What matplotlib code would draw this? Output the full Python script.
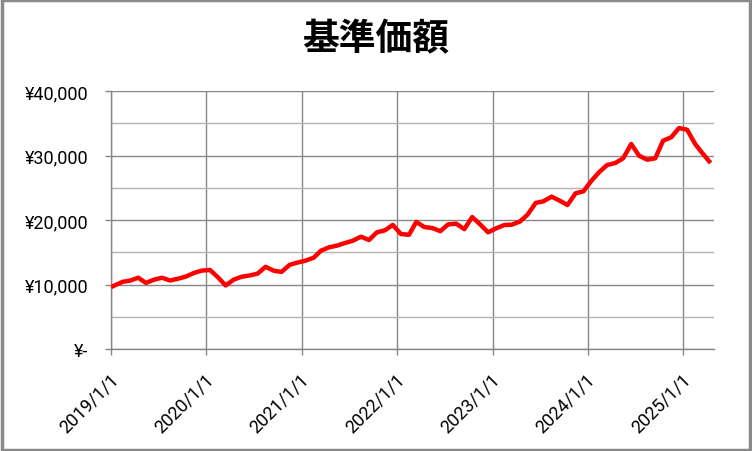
import pandas as pd
import matplotlib.pyplot as plt
import matplotlib.dates as mdates
import matplotlib.transforms as mtransforms
from matplotlib.patches import Rectangle
from matplotlib.ticker import FuncFormatter, MultipleLocator

plt.rcParams['font.family'] = ['Roboto', 'Noto Sans CJK JP', 'DejaVu Sans']

# first point at the start of 2019, then one point per month (15th)
dates = [pd.Timestamp('2019-01-01')] + list(
    pd.date_range('2019-02-01', periods=75, freq='MS') + pd.Timedelta(days=14))

nav = [
    # 2019
    9600, 10420, 10600, 11050, 10250, 10750, 11050, 10620, 10900, 11230, 11800, 12150,
    # 2020
    12250, 11100, 9850, 10760, 11200, 11400, 11680, 12750, 12140, 11950, 13050, 13400,
    # 2021
    13700, 14150, 15240, 15770, 16020, 16430, 16790, 17410, 16900, 18090, 18400, 19240,
    # 2022
    17830, 17700, 19700, 18900, 18760, 18270, 19320, 19430, 18580, 20460, 19300, 18090,
    # 2023
    18710, 19220, 19270, 19740, 20820, 22640, 22900, 23620, 23000, 22330, 24140, 24450,
    # 2024
    26100, 27490, 28530, 28840, 29560, 31780, 29970, 29350, 29560, 32290, 32820, 34260,
    # 2025
    34000, 31780, 30340, 28840,
]

title = "基準価額"
year_ticks = pd.date_range('2019-01-01', '2025-01-01', freq='YS')

grid_major = '#878787'
grid_minor = '#b3b3b3'


def yen(v, pos):
    if v == 0:
        return "¥-"
    return "¥{:,.0f}".format(v)


def draw_plot():
    fig = plt.figure(figsize=(7.52, 4.52), dpi=100)
    ax = fig.add_axes([111 / 752, 1 - 350 / 452, 603 / 752, 258 / 452])

    ax.plot(dates, nav, color='#ff0000', linewidth=3.2, solid_joinstyle='round',
            solid_capstyle='butt', zorder=3)

    ax.set_xlim(pd.Timestamp('2019-01-01'), pd.Timestamp('2025-04-28'))
    ax.set_ylim(0, 40000)

    ax.yaxis.set_major_locator(MultipleLocator(10000))
    ax.yaxis.set_minor_locator(MultipleLocator(5000))
    ax.yaxis.set_major_formatter(FuncFormatter(yen))
    ax.set_xticks(year_ticks)
    ax.xaxis.set_major_formatter(mdates.DateFormatter('%Y/%-m/%-d'))

    ax.grid(which='major', axis='both', color=grid_major, linewidth=1.0, zorder=1)
    ax.grid(which='minor', axis='y', color=grid_minor, linewidth=1.0, zorder=1)

    for s in ['top', 'right']:
        ax.spines[s].set_visible(False)
    for s in ['left', 'bottom']:
        ax.spines[s].set_color(grid_major)
        ax.spines[s].set_linewidth(1.0)

    ax.tick_params(axis='both', which='major', length=4.5, width=1.0, color=grid_major,
                   labelsize=13, labelcolor='black')
    ax.tick_params(axis='y', which='major', pad=12)
    ax.tick_params(axis='y', which='minor', length=0)
    ax.tick_params(axis='x', which='major', pad=15)
    shift = mtransforms.ScaledTranslation(0.045, 0, fig.dpi_scale_trans)
    for lab in ax.get_xticklabels():
        lab.set_rotation(45)
        lab.set_ha('right')
        lab.set_va('center')
        lab.set_rotation_mode('anchor')
        lab.set_transform(lab.get_transform() + shift)

    fig.text(0.5, 1 - 40 / 452, title, ha='center', va='center', fontsize=26.5,
             fontweight='bold', family=['Noto Sans CJK JP'])

    fig.patches.append(Rectangle((0.002, 0.003), 0.996, 0.994, transform=fig.transFigure,
                                 fill=False, edgecolor='#898989', linewidth=2.5))

    fig.savefig('out.png', dpi=100)
    return fig


if __name__ == "__main__":
    draw_plot()
